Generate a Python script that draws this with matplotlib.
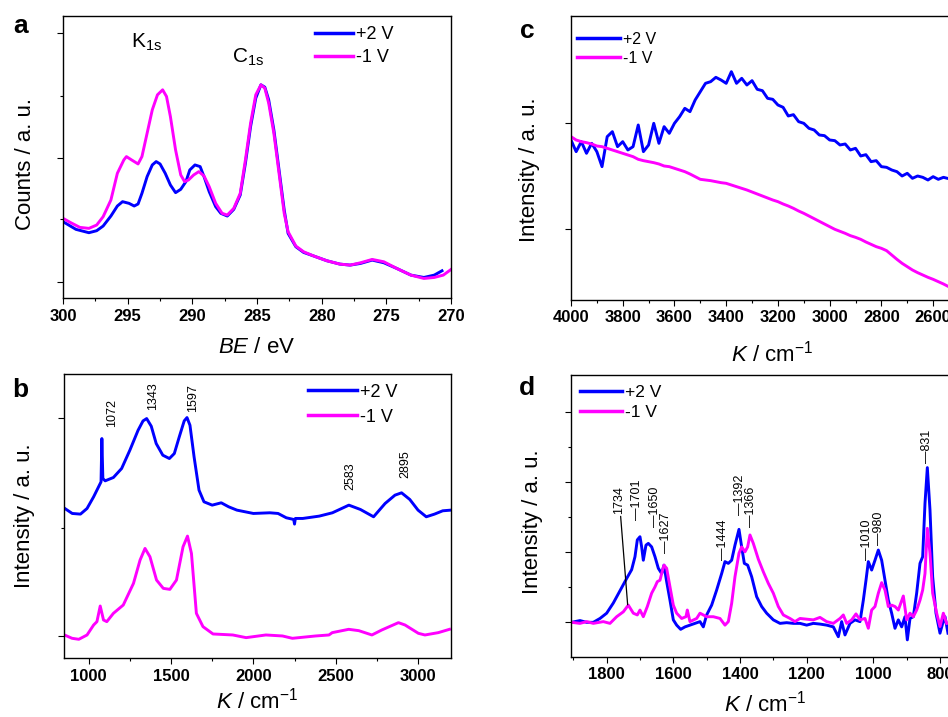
import matplotlib
matplotlib.use('Agg')
import matplotlib.pyplot as plt
from matplotlib.ticker import MultipleLocator

plt.rcParams['font.family'] = ['Liberation Sans', 'DejaVu Sans']
plt.rcParams['mathtext.fontset'] = 'custom'
plt.rcParams['mathtext.rm'] = 'Liberation Sans'
plt.rcParams['mathtext.it'] = 'Liberation Sans:italic'
plt.rcParams['mathtext.bf'] = 'Liberation Sans:bold'

BLUE = '#0000ff'
MAG = '#ff00ff'
series_names = ['+2 V', '-1 V']

# ---- panel a : XPS ----
a_be_pos = [300.0, 299.0, 298.0, 297.4, 296.9, 296.3, 295.8, 295.4, 294.9, 294.5, 294.2, 293.9, 293.5, 293.1,
            292.8, 292.5, 292.1, 291.7, 291.3, 290.9, 290.5, 290.2, 289.8, 289.4, 289.1, 288.7, 288.2, 287.8,
            287.3, 286.8, 286.3, 285.9, 285.5, 285.1, 284.7, 284.4, 284.1, 283.7, 283.3, 282.9, 282.6, 282.0,
            281.4, 280.6, 279.6, 278.6, 277.8, 277.0, 276.1, 275.2, 274.2, 273.1, 272.1, 271.3, 270.7]
a_cnt_pos = [230, 207, 197, 203, 217, 247, 277, 290, 285, 277, 283, 315, 365, 400, 410, 403, 375, 340, 317,
             327, 350, 385, 400, 395, 365, 320, 275, 255, 247, 267, 310, 405, 515, 600, 640, 633, 595, 505,
             385, 265, 195, 155, 138, 127, 113, 103, 100, 105, 115, 107, 90, 70, 63, 70, 83]
a_be_neg = [300.0, 299.4, 298.7, 298.0, 297.4, 296.9, 296.3, 295.8, 295.3, 295.1, 294.7, 294.2, 293.9, 293.5,
            293.1, 292.7, 292.3, 292.0, 291.7, 291.3, 290.9, 290.6, 290.3, 289.9, 289.5, 289.1, 288.7, 288.2,
            287.7, 287.3, 286.8, 286.3, 285.9, 285.5, 285.1, 284.7, 284.4, 284.1, 283.7, 283.3, 282.9, 282.6,
            282.0, 281.4, 280.6, 279.6, 278.6, 277.8, 277.0, 276.1, 275.2, 274.2, 273.1, 272.1, 271.3, 270.6, 270.0]
a_cnt_neg = [240, 227, 213, 210, 220, 245, 295, 375, 415, 425, 415, 403, 425, 495, 565, 610, 625, 605, 545,
             445, 370, 350, 355, 370, 380, 367, 335, 285, 255, 250, 270, 315, 415, 525, 610, 640, 630, 585,
             495, 375, 255, 200, 157, 140, 127, 113, 103, 100, 107, 117, 110, 90, 70, 60, 63, 70, 87]

# ---- panel b : Raman ----
b_k_pos = [855, 900, 950, 990, 1030, 1060, 1075, 1080, 1086, 1100, 1150, 1200, 1250, 1300, 1330, 1352, 1380,
           1410, 1450, 1490, 1520, 1550, 1580, 1597, 1615, 1640, 1670, 1700, 1750, 1805, 1850, 1900, 2000,
           2100, 2150, 2200, 2245, 2250, 2255, 2300, 2400, 2480, 2580, 2650, 2730, 2800, 2860, 2900, 2950,
           3000, 3050, 3100, 3150, 3200]
b_int_pos = [450, 435, 433, 450, 485, 515, 530, 660, 540, 533, 543, 570, 625, 685, 713, 720, 697, 645, 610,
             600, 615, 665, 713, 723, 700, 605, 505, 470, 460, 467, 455, 445, 435, 437, 435, 422, 417, 403,
             420, 420, 427, 437, 460, 447, 425, 465, 490, 497, 477, 445, 425, 433, 443, 445]
b_k_neg = [853, 899, 940, 990, 1030, 1050, 1070, 1090, 1110, 1150, 1210, 1272, 1312, 1342, 1372, 1412, 1453,
           1493, 1533, 1573, 1600, 1624, 1654, 1694, 1755, 1875, 1956, 2076, 2177, 2237, 2378, 2459, 2479,
           2579, 2640, 2720, 2780, 2881, 2921, 3002, 3042, 3123, 3191]
b_int_neg = [70, 60, 57, 70, 100, 110, 157, 115, 110, 135, 160, 225, 295, 330, 305, 235, 210, 207, 235, 335,
             367, 315, 135, 95, 73, 70, 62, 70, 67, 60, 67, 70, 77, 87, 83, 70, 85, 107, 100, 75, 70, 77, 87]
b_peaks = ['1072', '1343', '1597', '2583', '2895']

# ---- panel c : IR high wavenumber ----
c_k = [4000, 3980, 3960, 3940, 3920, 3900, 3880, 3860, 3840, 3820, 3800, 3780, 3760, 3740, 3720, 3700,
       3680, 3660, 3640, 3620, 3600, 3580, 3560, 3540, 3520, 3500, 3480, 3460, 3440, 3420, 3400, 3380,
       3360, 3340, 3320, 3300, 3280, 3260, 3240, 3220, 3200, 3180, 3160, 3140, 3120, 3100, 3080, 3060,
       3040, 3020, 3000, 2980, 2960, 2940, 2920, 2900, 2880, 2860, 2840, 2820, 2800, 2780, 2760, 2740,
       2720, 2700, 2680, 2660, 2640, 2620, 2600, 2580, 2560, 2540, 2520, 2500]
c_int_pos = [480, 445, 475, 440, 470, 445, 400, 490, 505, 460, 475, 450, 460, 525, 445, 465, 530, 470, 520,
             500, 530, 550, 575, 565, 600, 625, 650, 655, 668, 660, 650, 685, 650, 665, 645, 658, 632, 628,
             605, 602, 585, 578, 552, 556, 535, 530, 515, 510, 495, 493, 480, 478, 465, 468, 450, 455, 432,
             436, 415, 418, 400, 398, 390, 385, 372, 380, 365, 372, 368, 360, 370, 362, 368, 364, 370, 365]
c_int_neg = [490, 480, 475, 472, 468, 462, 460, 455, 450, 445, 440, 435, 430, 422, 418, 415, 412, 408, 402,
             400, 395, 390, 385, 378, 370, 362, 360, 358, 355, 352, 350, 345, 340, 335, 330, 324, 318, 312,
             306, 300, 295, 288, 282, 275, 267, 260, 252, 244, 236, 228, 220, 212, 206, 200, 193, 188, 182,
             174, 167, 160, 155, 148, 135, 122, 110, 100, 90, 82, 75, 68, 62, 55, 48, 40, 34, 28]

# ---- panel d : IR fingerprint ----
d_k_pos = [1905, 1880, 1860, 1840, 1820, 1800, 1780, 1760, 1740, 1725, 1715, 1708, 1700, 1695, 1690, 1682,
           1675, 1665, 1655, 1645, 1635, 1628, 1620, 1610, 1600, 1590, 1578, 1565, 1550, 1535, 1520, 1510,
           1500, 1485, 1470, 1455, 1445, 1435, 1425, 1415, 1403, 1395, 1387, 1377, 1365, 1350, 1335, 1320,
           1300, 1280, 1260, 1240, 1220, 1200, 1180, 1160, 1140, 1120, 1105, 1095, 1085, 1070, 1055, 1040,
           1030, 1022, 1015, 1005, 995, 985, 975, 965, 955, 945, 935, 925, 915, 905, 898, 890, 880, 870,
           860, 852, 845, 838, 830, 822, 812, 800, 792, 785, 776]
d_int_pos = [0, 0.05, 0, 0, 0.11, 0.26, 0.55, 0.9, 1.25, 1.5, 1.87, 2.35, 2.44, 2.15, 1.77, 2.2, 2.25, 2.15,
             1.87, 1.54, 1.39, 1.63, 1.16, 0.63, 0.07, -0.08, -0.2, -0.13, -0.08, -0.03, 0.02, -0.13, 0.21,
             0.49, 0.92, 1.39, 1.73, 1.68, 1.77, 2.2, 2.65, 2.15, 1.68, 1.63, 1.3, 0.73, 0.45, 0.26, 0.07,
             -0.03, -0.01, -0.03, -0.03, -0.08, -0.03, -0.05, -0.08, -0.13, -0.41, 0.02, -0.36, -0.03, 0.07,
             0.02, 0.63, 1.2, 1.73, 1.49, 1.77, 2.06, 1.77, 1.2, 0.63, 0.26, -0.17, 0.07, -0.13, 0.16, -0.5,
             0.11, 0.16, 0.83, 1.68, 1.87, 3.39, 4.41, 3.2, 1.3, 0.26, -0.31, -0.03, 0.16, -0.31]
d_k_neg = [1905, 1880, 1860, 1840, 1810, 1790, 1770, 1750, 1735, 1720, 1708, 1700, 1690, 1678, 1665, 1655,
           1648, 1640, 1635, 1628, 1620, 1610, 1600, 1590, 1575, 1562, 1558, 1550, 1530, 1520, 1510, 1500,
           1480, 1460, 1445, 1435, 1425, 1415, 1403, 1395, 1385, 1377, 1370, 1360, 1345, 1330, 1315, 1300,
           1285, 1270, 1250, 1235, 1220, 1200, 1180, 1160, 1140, 1120, 1100, 1090, 1080, 1065, 1052, 1040,
           1025, 1015, 1005, 995, 985, 975, 965, 955, 945, 935, 925, 910, 900, 890, 880, 870, 860, 852,
           845, 838, 830, 822, 810, 800, 790, 780]
d_int_neg = [0, -0.03, 0.02, -0.03, 0.02, -0.03, 0.16, 0.3, 0.49, 0.26, 0.21, 0.35, 0.16, 0.45, 0.83, 1.01,
             1.16, 1.2, 1.39, 1.63, 1.54, 1.01, 0.49, 0.26, 0.11, 0.16, 0.35, 0.02, 0.11, 0.26, 0.21, 0.16,
             0.16, 0.11, -0.08, 0.02, 0.54, 1.3, 1.97, 2.15, 2.01, 2.15, 2.49, 2.25, 1.8, 1.44, 1.11, 0.83,
             0.45, 0.21, 0.11, 0.02, 0.11, 0.09, 0.07, 0.14, 0.02, -0.03, 0.11, 0.21, -0.03, 0.07, 0.24, 0.07,
             0.11, -0.17, 0.35, 0.45, 0.83, 1.13, 0.92, 0.45, 0.49, 0.45, 0.35, 0.75, 0.07, 0.26, 0.16, 0.35,
             0.63, 0.92, 1.39, 2.68, 1.97, 0.83, 0.26, -0.12, 0.26, -0.03]
d_peaks = ['1701', '1650', '1627', '1444', '1392', '1366', '1010', '980', '831']

fig = plt.figure(figsize=(9.48, 7.17), dpi=100)
ax_a = fig.add_axes([0.0665, 0.5837, 0.4093, 0.3944])
ax_b = fig.add_axes([0.0675, 0.0819, 0.4082, 0.3970])
ax_c = fig.add_axes([0.6023, 0.5816, 0.4093, 0.3961])
ax_d = fig.add_axes([0.6023, 0.0841, 0.4093, 0.3929])


def style(ax, xticks, xminor):
    for s in ax.spines.values():
        s.set_linewidth(1.0)
    ax.set_xticks(xticks, [str(t) for t in xticks], fontweight='bold', fontsize=12)
    ax.xaxis.set_minor_locator(MultipleLocator(xminor))
    ax.tick_params(which='both', direction='out', top=False, right=False, labelleft=False, width=0.8)
    ax.tick_params(which='major', length=4)
    ax.tick_params(which='minor', length=2.5)


def legend(ax, anchor, fs, hl, ls):
    ax.legend(loc='upper left', bbox_to_anchor=anchor, fontsize=fs, handlelength=hl, handletextpad=0.2,
              labelspacing=ls, borderpad=0, borderaxespad=0, frameon=False)


# a
ax_a.plot(a_be_pos, a_cnt_pos, color=BLUE, lw=2.1, label=series_names[0])
ax_a.plot(a_be_neg, a_cnt_neg, color=MAG, lw=2.1, label=series_names[1])
ax_a.set_xlim(300, 270)
ax_a.set_ylim(0, 847)
style(ax_a, [300, 295, 290, 285, 280, 275, 270], 2.5)
ax_a.set_yticks([50, 422, 795])
ax_a.set_yticks([237, 607], minor=True)
ax_a.set_xlabel(r'$\mathit{BE}$ / eV', fontsize=16)
ax_a.xaxis.set_label_coords(0.5, -0.136)
ax_a.set_ylabel('Counts / a. u.', fontsize=16)
ax_a.yaxis.set_label_coords(-0.07, 0.476)
ax_a.text(0.175, 0.887, r'K$_{\mathrm{1s}}$', transform=ax_a.transAxes, fontsize=15)
ax_a.text(0.436, 0.833, r'C$_{\mathrm{1s}}$', transform=ax_a.transAxes, fontsize=15)
legend(ax_a, (0.649, 0.962), 13, 2.1, 0.3)

# b
ax_b.plot(b_k_pos, b_int_pos, color=BLUE, lw=2.1, label=series_names[0])
ax_b.plot(b_k_neg, b_int_neg, color=MAG, lw=2.1, label=series_names[1])
ax_b.set_xlim(850, 3200)
ax_b.set_ylim(0, 855)
style(ax_b, [1000, 1500, 2000, 2500, 3000], 250)
ax_b.set_yticks([67, 722])
ax_b.set_yticks([392], minor=True)
ax_b.set_xlabel(r'$\mathit{K}$ / cm$^{-1}$', fontsize=16)
ax_b.xaxis.set_label_coords(0.5, -0.104)
ax_b.set_ylabel('Intensity / a. u.', fontsize=16)
ax_b.yaxis.set_label_coords(-0.075, 0.5)
b_label_xy = [(1141, 694), (1393, 745), (1631, 740), (2590, 505), (2925, 540)]
for lab, (x, y) in zip(b_peaks, b_label_xy):
    ax_b.text(x, y, lab, rotation=90, ha='center', va='bottom', fontsize=9)
legend(ax_b, (0.63, 0.965), 13, 2.7, 0.45)

# c
ax_c.plot(c_k, c_int_pos, color=BLUE, lw=2.1, label=series_names[0])
ax_c.plot(c_k, c_int_neg, color=MAG, lw=2.1, label=series_names[1])
ax_c.set_xlim(4000, 2500)
ax_c.set_ylim(0, 852)
style(ax_c, [4000, 3800, 3600, 3400, 3200, 3000, 2800, 2600], 100)
ax_c.set_yticks([212, 532])
ax_c.set_xlabel(r'$\mathit{K}$ / cm$^{-1}$', fontsize=16)
ax_c.xaxis.set_label_coords(0.517, -0.144)
ax_c.set_ylabel('Intensity / a. u.', fontsize=16)
ax_c.yaxis.set_label_coords(-0.08, 0.458)
legend(ax_c, (0.015, 0.944), 11.5, 2.7, 0.25)

# d
ax_d.plot(d_k_pos, d_int_pos, color=BLUE, lw=2.1, label=series_names[0])
ax_d.plot(d_k_neg, d_int_neg, color=MAG, lw=2.1, label=series_names[1])
ax_d.set_xlim(1907, 743)
ax_d.set_ylim(-0.98, 7.05)
style(ax_d, [1800, 1600, 1400, 1200, 1000, 800], 100)
ax_d.set_yticks([0, 2, 4, 6])
ax_d.set_yticks([1, 3, 5], minor=True)
ax_d.set_xlabel(r'$\mathit{K}$ / cm$^{-1}$', fontsize=16)
ax_d.xaxis.set_label_coords(0.5, -0.121)
ax_d.set_ylabel('Intensity / a. u.', fontsize=16)
ax_d.yaxis.set_label_coords(-0.072, 0.478)
d_label_xy = [(1709, 2.91), (1655, 2.72), (1622, 1.97), (1452, 1.77), (1400, 3.06), (1367, 2.72),
              (1020, 1.77), (983, 2.2), (840, 4.54)]
for lab, (x, y) in zip(d_peaks, d_label_xy):
    ax_d.text(x, y, '\u2014' + lab, rotation=90, ha='center', va='bottom', fontsize=9)
ax_d.annotate('1734', xy=(1737, 0.5), xytext=(1762, 3.1), rotation=90, ha='center', va='bottom',
              fontsize=9, arrowprops=dict(arrowstyle='-', lw=0.9, color='black', shrinkA=0, shrinkB=0))
legend(ax_d, (0.023, 0.965), 12.5, 2.4, 0.3)

fig.text(0.0137, 0.954, 'a', fontsize=19, fontweight='bold', va='baseline')
fig.text(0.0127, 0.4463, 'b', fontsize=19, fontweight='bold', va='baseline')
fig.text(0.5485, 0.947, 'c', fontsize=19, fontweight='bold', va='baseline')
fig.text(0.5475, 0.449, 'd', fontsize=19, fontweight='bold', va='baseline')

for ax in (ax_a, ax_b, ax_c, ax_d):
    for line in ax.get_legend().get_lines():
        line.set_linewidth(2.5)

fig.savefig('out.png', dpi=100)
